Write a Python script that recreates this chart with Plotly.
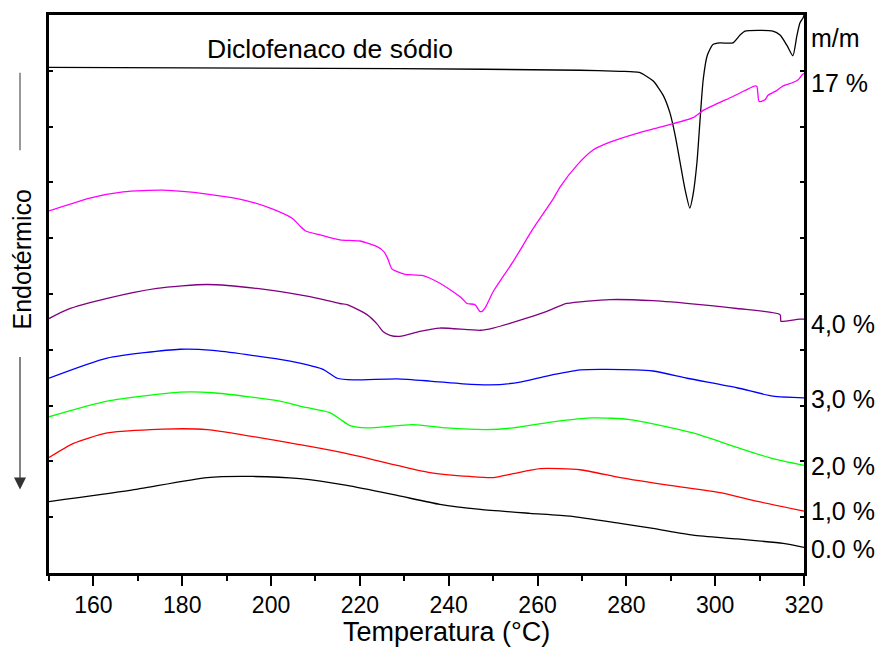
import plotly.graph_objects as go

# ---- data (temperature in °C, heat flow in arbitrary offset units) ----
t_dic = [150.0, 229.0, 269.6, 278.6, 282.9, 286.0, 288.3, 289.8, 291.0, 292.1, 293.2, 294.3,
         295.0, 295.9, 296.6, 297.3, 298.2, 299.5, 301.1, 304.0, 305.6, 306.7, 313.0, 314.6,
         316.2, 317.5, 318.4, 319.1, 319.8, 320.0]
y_dic = [9.06, 9.04, 9.01, 8.99, 8.97, 8.82, 8.56, 8.25, 7.84, 7.36, 6.88, 6.54,
         6.77, 7.36, 8.13, 8.84, 9.27, 9.47, 9.50, 9.50, 9.64, 9.71, 9.71, 9.64,
         9.45, 9.27, 9.63, 9.86, 9.95, 10.0]

t_17 = [150.0, 159.2, 166.7, 175.7, 185.6, 194.6, 200.4, 204.9, 206.5, 207.8, 211.0, 215.5,
        220.0, 223.9, 225.4, 226.3, 227.2, 228.4, 230.2, 234.2, 237.4, 241.0, 243.0, 244.1,
        245.9, 247.0, 247.5, 248.4, 250.0, 254.5, 259.0, 263.5, 265.1, 268.9, 272.5, 276.3,
        282.4, 287.6, 295.0, 297.3, 304.0, 309.0, 309.4, 309.9, 311.2, 311.9, 313.9, 315.3,
        317.5, 318.7, 319.6, 320.0]
y_17 = [6.49, 6.72, 6.83, 6.86, 6.79, 6.67, 6.52, 6.35, 6.22, 6.13, 6.06, 5.97,
        5.95, 5.85, 5.76, 5.63, 5.45, 5.40, 5.35, 5.33, 5.22, 5.04, 4.92, 4.83,
        4.81, 4.69, 4.69, 4.78, 5.04, 5.58, 6.17, 6.70, 6.92, 7.31, 7.58, 7.72,
        7.88, 7.99, 8.16, 8.29, 8.54, 8.73, 8.72, 8.45, 8.48, 8.56, 8.65, 8.73,
        8.79, 8.84, 8.93, 8.95]

t_40 = [150.0, 154.1, 163.1, 174.3, 185.6, 196.8, 208.1, 215.5, 217.1, 221.6, 223.9, 225.2,
        226.8, 229.0, 233.5, 238.0, 247.1, 250.0, 256.1, 262.1, 266.6, 276.3, 286.0, 296.6,
        304.9, 314.6, 314.8, 315.3, 319.1, 320.0]
y_40 = [4.56, 4.72, 4.92, 5.10, 5.17, 5.10, 4.96, 4.83, 4.81, 4.63, 4.46, 4.33,
        4.26, 4.24, 4.33, 4.39, 4.35, 4.39, 4.53, 4.69, 4.83, 4.90, 4.88, 4.81,
        4.74, 4.63, 4.51, 4.51, 4.55, 4.55]

t_30 = [150.0, 163.1, 179.5, 186.9, 202.0, 206.5, 211.7, 213.3, 214.9, 218.5, 228.4, 235.8,
        243.2, 249.3, 256.1, 262.1, 269.6, 275.6, 286.0, 293.7, 304.9, 313.0, 320.0]
y_30 = [3.49, 3.85, 4.01, 3.99, 3.83, 3.76, 3.65, 3.57, 3.49, 3.46, 3.48, 3.44,
        3.39, 3.37, 3.42, 3.53, 3.64, 3.65, 3.62, 3.49, 3.32, 3.17, 3.14]

t_20 = [150.0, 163.1, 179.5, 186.9, 202.0, 206.5, 213.3, 215.5, 217.8, 221.6, 232.0, 239.6,
        248.6, 254.5, 263.5, 272.5, 280.8, 295.0, 304.9, 313.0, 320.0]
y_20 = [2.80, 3.08, 3.24, 3.23, 3.08, 2.99, 2.87, 2.76, 2.64, 2.60, 2.66, 2.60,
        2.57, 2.60, 2.71, 2.78, 2.75, 2.51, 2.25, 2.05, 1.93]

t_10 = [150.0, 155.4, 163.1, 175.7, 185.6, 206.5, 217.1, 228.4, 235.8, 244.8, 250.0, 254.5,
        260.6, 269.6, 278.6, 289.8, 301.1, 308.5, 320.0]
y_10 = [2.07, 2.32, 2.51, 2.58, 2.57, 2.30, 2.14, 1.93, 1.80, 1.73, 1.71, 1.78,
        1.87, 1.85, 1.71, 1.57, 1.44, 1.30, 1.11]

t_00 = [150.0, 168.2, 185.6, 195.9, 206.5, 217.1, 228.4, 238.0, 247.1, 258.3, 267.3, 278.6,
        286.0, 295.0, 304.9, 315.3, 320.0]
y_00 = [1.28, 1.48, 1.71, 1.73, 1.69, 1.57, 1.39, 1.23, 1.14, 1.07, 1.02, 0.89,
        0.80, 0.68, 0.61, 0.53, 0.46]

series = [
    ("Diclofenaco de sódio", t_dic, y_dic, "#000000"),
    ("17 %", t_17, y_17, "#FF00FF"),
    ("4,0 %", t_40, y_40, "#800080"),
    ("3,0 %", t_30, y_30, "#0000FF"),
    ("2,0 %", t_20, y_20, "#00FF00"),
    ("1,0 %", t_10, y_10, "#FF0000"),
    ("0.0 %", t_00, y_00, "#000000"),
]

right_labels = ["m/m", "17 %", "4,0 %", "3,0 %", "2,0 %", "1,0 %", "0.0 %"]
right_label_y = [9.59, 8.79, 4.47, 3.12, 1.91, 1.12, 0.43]

x_ticks = [160, 180, 200, 220, 240, 260, 280, 300, 320]

FONT = "Liberation Sans, Arial, sans-serif"

fig = go.Figure()
for name, t, y, c in series:
    fig.add_trace(go.Scatter(x=t, y=y, mode="lines", name=name,
                             line=dict(color=c, width=1.3, shape="spline", smoothing=0.6),
                             showlegend=False, hoverinfo="skip"))

annotations = []
for txt, yy in zip(right_labels, right_label_y):
    annotations.append(dict(x=320, y=yy, xref="x", yref="y", text=txt, showarrow=False,
                            xanchor="left", yanchor="middle", xshift=5,
                            font=dict(size=25, color="black", family=FONT)))
annotations.append(dict(x=213.3, y=9.39, xref="x", yref="y", text="Diclofenaco de sódio",
                        showarrow=False, xanchor="center", yanchor="middle",
                        font=dict(size=26.5, color="black", family=FONT)))
annotations.append(dict(x=-0.036, y=0.5615, xref="paper", yref="paper", text="Endotérmico",
                        textangle=-90, showarrow=False, xanchor="center", yanchor="middle",
                        font=dict(size=25, color="black", family=FONT)))
# x-axis title (offset to the right as in the original)
annotations.append(dict(x=0.526, y=-0.105, xref="paper", yref="paper", text="Temperatura (°C)",
                        showarrow=False, xanchor="center", yanchor="middle",
                        font=dict(size=27, color="black", family=FONT)))
# downward arrow
annotations.append(dict(x=-0.0384, y=0.1497, xref="paper", yref="paper", text="",
                        showarrow=True, ax=0, ay=-134, axref="pixel", ayref="pixel",
                        arrowhead=2, arrowsize=2, arrowwidth=1.2, arrowcolor="#333333"))

shapes = [dict(type="line", xref="paper", yref="paper", x0=-0.0384, x1=-0.0384,
               y0=0.8966, y1=0.7576, line=dict(color="#555555", width=1.2))]

fig.update_layout(
    width=880, height=651,
    margin=dict(l=49, r=76, t=12, b=78),
    paper_bgcolor="white", plot_bgcolor="white",
    annotations=annotations, shapes=shapes,
    font=dict(family=FONT, color="black"),
)
fig.update_xaxes(
    range=[150, 320], tickvals=x_ticks, ticks="outside", ticklen=10, tickwidth=2,
    tickcolor="black", showline=True, linewidth=2.5, linecolor="black", mirror=True,
    showgrid=False, zeroline=False, tickfont=dict(size=23, family=FONT),
    minor=dict(dtick=10, tick0=150, ticks="outside", ticklen=5, tickwidth=2, tickcolor="black"),
)
fig.update_yaxes(
    range=[0, 10], dtick=1, tick0=0, ticks="inside", ticklen=4, tickwidth=1.5,
    tickcolor="black", showticklabels=False, showline=True, linewidth=2.5,
    linecolor="black", mirror="ticks", showgrid=False, zeroline=False,
)

fig.write_html("out.html")
